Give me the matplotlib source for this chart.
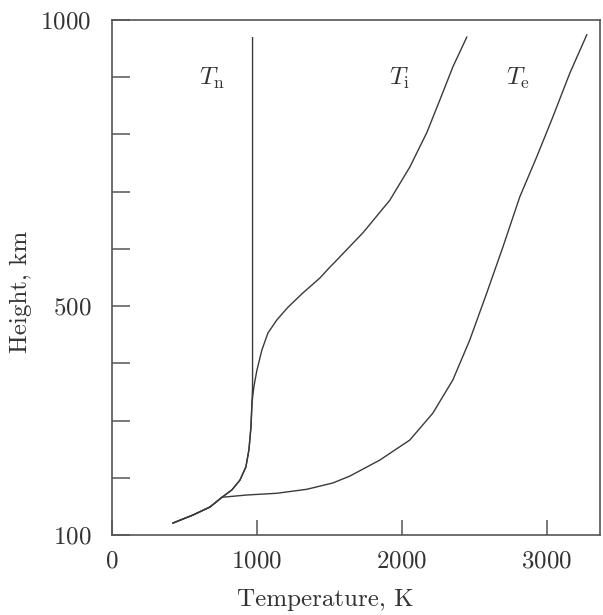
import numpy as np
import matplotlib
matplotlib.use("Agg")
import matplotlib.pyplot as plt
from matplotlib.ticker import MultipleLocator, FixedLocator

plt.rcParams["font.family"] = "cmr10"
plt.rcParams["mathtext.fontset"] = "cm"
plt.rcParams["axes.formatter.use_mathtext"] = True

# Curves: temperature (K) vs height (km)
ti_temp = [421, 559, 676, 759, 828, 883, 924, 945, 959, 966, 979, 1000,
           1034, 1076, 1138, 1214, 1317, 1434, 1503, 1538, 1731, 1917,
           2055, 2172, 2262, 2352, 2448]
ti_height = [121, 135, 149, 166, 179, 196, 219, 249, 289, 331, 359, 388,
             423, 453, 476, 498, 523, 549, 568, 577, 628, 685,
             743, 803, 860, 918, 970]

tn_temp = [421, 559, 676, 759, 828, 883, 924, 945, 959, 966, 970, 970]
tn_height = [121, 135, 149, 166, 179, 196, 219, 249, 289, 331, 359, 969]

te_temp = [421, 559, 676, 759, 931, 1138, 1345, 1524, 1641, 1848, 2055,
           2214, 2352, 2469, 2586, 2697, 2814, 2931, 3041, 3159, 3276]
te_height = [121, 135, 149, 166, 170, 173, 180, 191, 203, 231, 266,
             313, 371, 441, 523, 603, 691, 761, 830, 907, 974]

labels = [r"$T_{\rm n}$", r"$T_{\rm i}$", r"$T_{\rm e}$"]
label_temp = [690, 1985, 2800]
label_height = [898, 898, 898]

fig = plt.figure(figsize=(6.03, 6.15), dpi=100)
ax = fig.add_axes([0.1857, 0.130, 0.809, 0.8375])

line_kw = dict(color="#3a3a3a", lw=1.0)
ax.plot(tn_temp, tn_height, **line_kw)
ax.plot(ti_temp, ti_height, **line_kw)
ax.plot(te_temp, te_height, **line_kw)

for txt, x, y in zip(labels, label_temp, label_height):
    ax.text(x, y, txt, fontsize=18, ha="center", va="center", color="#333333")

ax.set_xlim(0, 3366)
ax.set_ylim(100, 1000)
ax.xaxis.set_major_locator(FixedLocator([0, 1000, 2000, 3000]))
ax.yaxis.set_major_locator(FixedLocator([100, 500, 1000]))
ax.yaxis.set_minor_locator(MultipleLocator(100))

ax.tick_params(axis="both", which="both", direction="in", color="#555555",
               labelsize=18, labelcolor="#333333")
ax.tick_params(axis="x", which="major", length=11, width=1.1, pad=11,
               top=False)
ax.tick_params(axis="y", which="major", length=13, width=1.1, pad=15,
               right=False)
ax.tick_params(axis="y", which="minor", length=13, width=1.1, right=False)

for s in ax.spines.values():
    s.set_color("#555555")
    s.set_linewidth(1.2)

ax.set_xlabel("Temperature, K", fontsize=18, color="#333333")
ax.set_ylabel("Height, km", fontsize=18, color="#333333")
ax.xaxis.set_label_coords(0.437, -0.105)
ax.yaxis.set_label_coords(-0.163, 0.472)

fig.savefig("out.png", dpi=100)
